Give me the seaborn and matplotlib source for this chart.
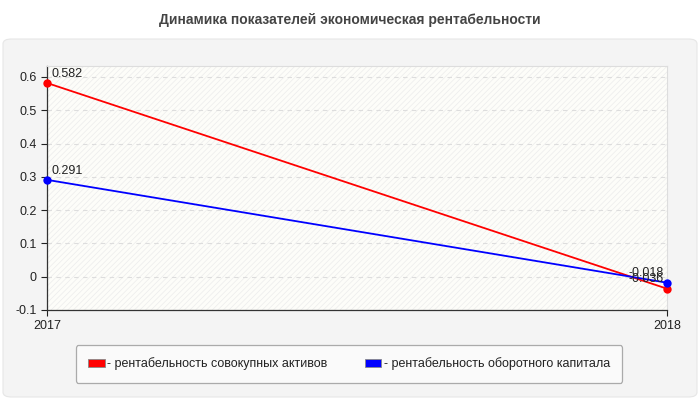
import pandas as pd
import matplotlib.pyplot as plt
import seaborn as sns
from matplotlib.patches import FancyBboxPatch, Rectangle

years = [2017, 2018]
assets = [0.582, -0.036]
working_capital = [0.291, -0.018]
series_names = ['- рентабельность совокупных активов',
                '- рентабельность оборотного капитала']
colors = ['#ff0000', '#0000ff']

df = pd.DataFrame({
    'year': years * 2,
    'value': assets + working_capital,
    'series': [series_names[0]] * 2 + [series_names[1]] * 2,
})

sns.set_style('white')
plt.rcParams['font.family'] = ['Liberation Sans', 'DejaVu Sans']
plt.rcParams['hatch.linewidth'] = 0.5

fig = plt.figure(figsize=(7, 4), dpi=100)
fig.patch.set_facecolor('white')

# серая подложка
panel = FancyBboxPatch((3 / 700, 3 / 400), 694 / 700, 358 / 400,
                       boxstyle='round,pad=0,rounding_size=0.012',
                       transform=fig.transFigure, facecolor='#f4f4f4',
                       edgecolor='#e6e6e6', linewidth=0.8, zorder=-5)
fig.patches.append(panel)

fig.text(0.5, 380 / 400, 'Динамика показателей экономическая рентабельности',
         ha='center', va='center', fontsize=10, fontweight='bold', color='#444444')

ax = fig.add_axes([47 / 700, 90 / 400, 620 / 700, 244 / 400])
ax.set_zorder(1)
ax.set_facecolor('#fdfdf9')
ax.add_patch(Rectangle((0, 0), 1, 1, transform=ax.transAxes, facecolor='none',
                       edgecolor='#ececec', hatch='//////', linewidth=0, zorder=0))

sns.lineplot(data=df, x='year', y='value', hue='series', palette=colors,
             marker='o', markersize=6, markeredgewidth=0, linewidth=1.3,
             legend=False, ax=ax, zorder=3)
for line in ax.lines:
    line.set_clip_on(False)

for vals in [assets, working_capital]:
    ax.annotate(f'{vals[0]:.3f}', (years[0], vals[0]), xytext=(3, 4),
                textcoords='offset points', fontsize=9, color='#222222')
    ax.annotate(f'{vals[1]:.3f}', (years[1], vals[1]), xytext=(-28, 5),
                textcoords='offset points', fontsize=9, color='#222222')

ax.set_xlim(2017, 2018)
ax.set_ylim(-0.1, 0.633)
ax.set_xticks(years)
ax.set_xticklabels([str(y) for y in years])
ax.set_yticks([-0.1, 0, 0.1, 0.2, 0.3, 0.4, 0.5, 0.6])
ax.set_yticklabels(['-0.1', '0', '0.1', '0.2', '0.3', '0.4', '0.5', '0.6'])
ax.yaxis.grid(True, linestyle=(0, (4, 4)), color='#dddddd', linewidth=0.8)
ax.set_axisbelow(True)
ax.tick_params(axis='both', labelsize=9, colors='#222222', length=4, width=0.8,
               direction='out', left=True, bottom=True)
ax.set_xlabel('')
ax.set_ylabel('')
for side in ['left', 'bottom']:
    ax.spines[side].set_color('#333333')
    ax.spines[side].set_linewidth(0.9)
for side in ['top', 'right']:
    ax.spines[side].set_color('#dddddd')
    ax.spines[side].set_linewidth(0.8)

# легенда
handles = [FancyBboxPatch((0, 0), 1, 1, boxstyle='round,pad=0.1', facecolor=c,
                          edgecolor='#888888', linewidth=0.6) for c in colors]
leg = fig.legend(handles, series_names, loc='center', bbox_to_anchor=(349 / 700, 36 / 400),
                 ncol=2, fontsize=9, frameon=True, fancybox=True, handlelength=1.3,
                 handleheight=0.7, handletextpad=0.2, columnspacing=3.0,
                 borderpad=1.0, borderaxespad=0, labelcolor='#222222')
leg.get_frame().set_facecolor('#fafafa')
leg.get_frame().set_edgecolor('#aaaaaa')
leg.get_frame().set_linewidth(0.9)
leg.get_frame().set_alpha(1)

fig.savefig('out.png', dpi=100)
